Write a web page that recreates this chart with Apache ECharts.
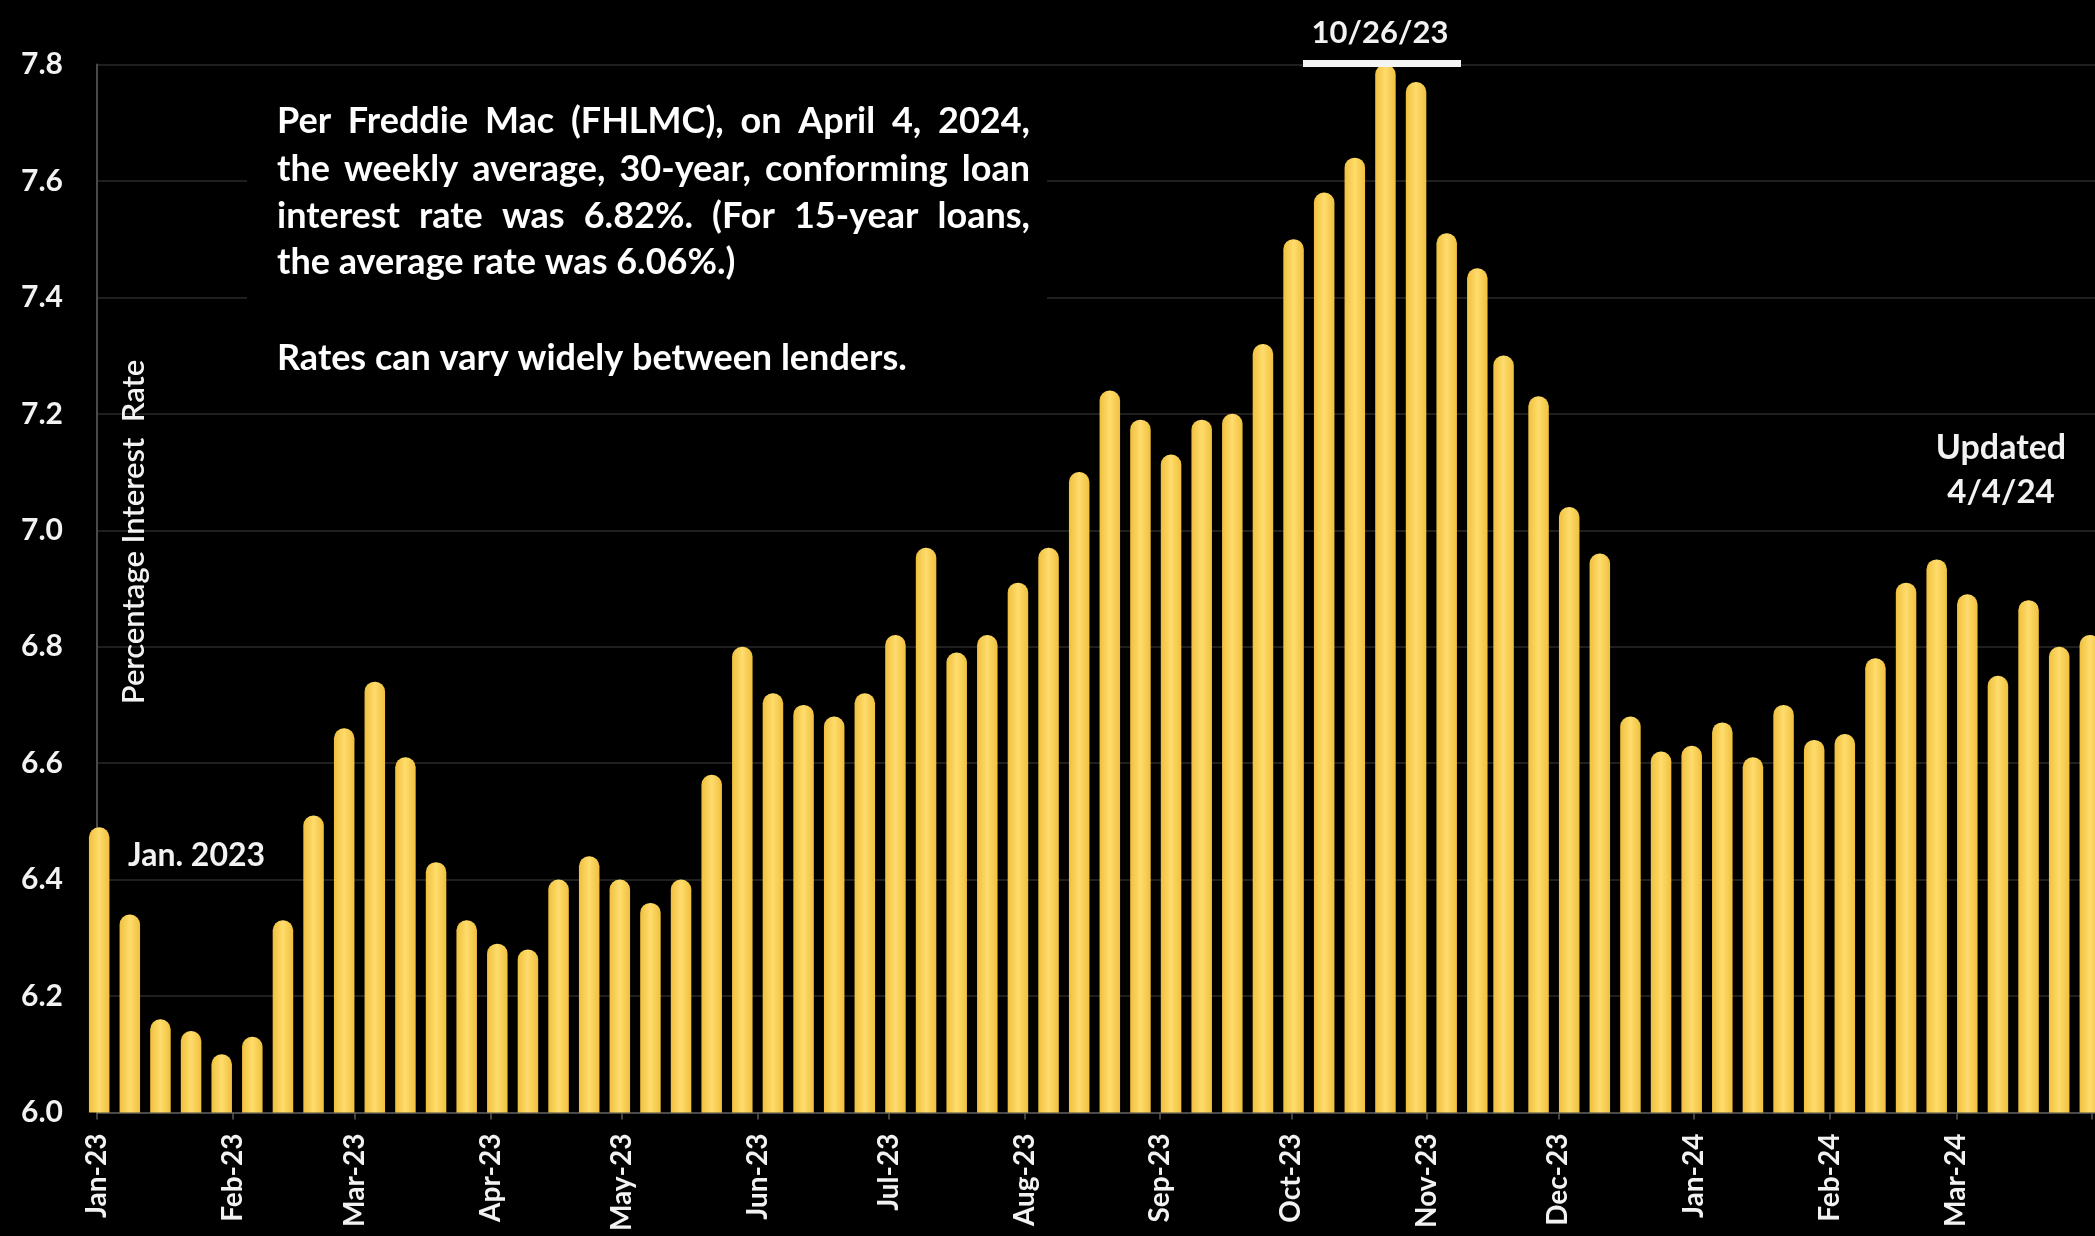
<!DOCTYPE html>
<html>
<head>
<meta charset="utf-8">
<script src="https://cdn.jsdelivr.net/npm/echarts@6/dist/echarts.min.js"></script>
<style>
  html, body { margin: 0; padding: 0; background: #000; }
  #chart { width: 2095px; height: 1236px; }
</style>
</head>
<body>
<div id="chart"></div>
<script>
// Weekly survey dates (Thursdays) and 30-year fixed rates, Jan 2023 - Apr 2024
const weekDates = [
  '2023-01-05','2023-01-12','2023-01-19','2023-01-26',
  '2023-02-02','2023-02-09','2023-02-16','2023-02-23',
  '2023-03-02','2023-03-09','2023-03-16','2023-03-23','2023-03-30',
  '2023-04-06','2023-04-13','2023-04-20','2023-04-27',
  '2023-05-04','2023-05-11','2023-05-18','2023-05-25',
  '2023-06-01','2023-06-08','2023-06-15','2023-06-22','2023-06-29',
  '2023-07-06','2023-07-13','2023-07-20','2023-07-27',
  '2023-08-03','2023-08-10','2023-08-17','2023-08-24','2023-08-31',
  '2023-09-07','2023-09-14','2023-09-21','2023-09-28',
  '2023-10-05','2023-10-12','2023-10-19','2023-10-26',
  '2023-11-02','2023-11-09','2023-11-16','2023-11-22','2023-11-30',
  '2023-12-07','2023-12-14','2023-12-21','2023-12-28',
  '2024-01-04','2024-01-11','2024-01-18','2024-01-25',
  '2024-02-01','2024-02-08','2024-02-15','2024-02-22','2024-02-29',
  '2024-03-07','2024-03-14','2024-03-21','2024-03-28',
  '2024-04-04'
];
const rates = [
  6.49, 6.34, 6.16, 6.14,
  6.10, 6.13, 6.33, 6.51,
  6.66, 6.74, 6.61, 6.43, 6.33,
  6.29, 6.28, 6.40, 6.44,
  6.40, 6.36, 6.40, 6.58,
  6.80, 6.72, 6.70, 6.68, 6.72,
  6.82, 6.97, 6.79, 6.82,
  6.91, 6.97, 7.10, 7.24, 7.19,
  7.13, 7.19, 7.20, 7.32,
  7.50, 7.58, 7.64, 7.80,
  7.77, 7.51, 7.45, 7.30, 7.23,
  7.04, 6.96, 6.68, 6.62,
  6.63, 6.67, 6.61, 6.70,
  6.64, 6.65, 6.78, 6.91, 6.95,
  6.89, 6.75, 6.88, 6.80,
  6.82
];

// Month ticks along the date axis
const monthStarts = [
  '2023-01-01','2023-02-01','2023-03-01','2023-04-01','2023-05-01','2023-06-01',
  '2023-07-01','2023-08-01','2023-09-01','2023-10-01','2023-11-01','2023-12-01',
  '2024-01-01','2024-02-01','2024-03-01'
];
const monthLabels = [
  'Jan-23','Feb-23','Mar-23','Apr-23','May-23','Jun-23',
  'Jul-23','Aug-23','Sep-23','Oct-23','Nov-23','Dec-23',
  'Jan-24','Feb-24','Mar-24'
];
const unlabeledTicks = ['2024-04-01'];

// Rate axis
const yMin = 6.0, yMax = 7.8, yStep = 0.2;

const FONT = 'Lato, "Open Sans", sans-serif';
const AXIS_START = Date.UTC(2023, 0, 1);
function dayOf(s) {
  const [y, m, d] = s.split('-').map(Number);
  return (Date.UTC(y, m - 1, d) - AXIS_START) / 86400000;
}
// each weekly rate sits over the middle of the survey week it closes
const barData = weekDates.map((d, i) => [dayOf(d) - 3.5, rates[i]]);
const labelDays = monthStarts.map(dayOf);
const labelByDay = {};
labelDays.forEach((d, i) => { labelByDay[d] = monthLabels[i]; });
const tickDays = labelDays.concat(unlabeledTicks.map(dayOf));

const GRID_LEFT = 97, GRID_TOP = 64.5, GRID_BOTTOM = 123.5;
const PX_PER_DAY = 4.375;
const xMax = (2095 - GRID_LEFT) / PX_PER_DAY;

// Note block, justified to a fixed column width
const noteLines = [
  'Per Freddie Mac (FHLMC), on April 4, 2024,',
  'the weekly average, 30-year, conforming loan',
  'interest rate was 6.82%. (For 15-year loans,',
  'the average rate was 6.06%.)'
];
const noteFooter = 'Rates can vary widely between lenders.';

const measureCtx = document.createElement('canvas').getContext('2d');
const NOTE_FONT = 'bold 36px ' + FONT;
measureCtx.font = NOTE_FONT;

function lineWords(text, x, y, width, justify) {
  const words = text.split(' ');
  const widths = words.map(w => measureCtx.measureText(w).width);
  const total = widths.reduce((a, b) => a + b, 0);
  const space = measureCtx.measureText(' ').width;
  let gap = space;
  if (justify && words.length > 1) {
    gap = Math.max(space * 0.7, (width - total) / (words.length - 1));
  }
  const out = [];
  let cx = x;
  words.forEach((w, i) => {
    out.push({
      type: 'text', x: cx, y: y, z: 20, silent: true,
      style: { text: w, fill: '#ffffff', font: NOTE_FONT, align: 'left', verticalAlign: 'middle' }
    });
    cx += widths[i] + gap;
  });
  return out;
}

const NOTE_LEFT = 277, NOTE_WIDTH = 753;
const noteY = [121, 169, 216, 262];
let noteElements = [];
noteLines.forEach((t, i) => {
  noteElements = noteElements.concat(lineWords(t, NOTE_LEFT, noteY[i], NOTE_WIDTH, i < 3));
});
noteElements = noteElements.concat(lineWords(noteFooter, NOTE_LEFT, 358, NOTE_WIDTH, false));

const chart = echarts.init(document.getElementById('chart'), null, { renderer: 'canvas' });

chart.setOption({
  backgroundColor: '#000000',
  animation: false,
  grid: { left: GRID_LEFT, right: 0, top: GRID_TOP, bottom: GRID_BOTTOM, containLabel: false },
  xAxis: {
    type: 'value',
    min: 0,
    max: xMax,
    axisLine: { show: true, lineStyle: { color: '#4a4a4a', width: 2 } },
    axisTick: { show: true, customValues: tickDays, length: 7, lineStyle: { color: '#5a5a5a', width: 1.5 } },
    splitLine: { show: false },
    axisLabel: {
      customValues: labelDays,
      rotate: 90,
      margin: 21,
      color: '#f2f2f2',
      fontFamily: FONT,
      fontWeight: 'bold',
      fontSize: 28,
      formatter: v => labelByDay[Math.round(v)] || ''
    }
  },
  yAxis: {
    type: 'value',
    min: yMin,
    max: yMax,
    interval: yStep,
    axisLine: { show: true, lineStyle: { color: '#4a4a4a', width: 2 } },
    axisTick: { show: false },
    splitLine: { show: true, lineStyle: { color: '#1f1f1f', width: 2 } },
    axisLabel: {
      margin: 34,
      color: '#f2f2f2',
      fontFamily: FONT,
      fontWeight: 'bold',
      fontSize: 30,
      formatter: v => v.toFixed(1)
    }
  },
  series: [{
    type: 'bar',
    data: barData,
    barWidth: 20.5,
    clip: true,
    itemStyle: {
      borderRadius: [10, 10, 0, 0],
      color: new echarts.graphic.LinearGradient(0, 0, 1, 0, [
        { offset: 0, color: '#EFC03E' },
        { offset: 0.5, color: '#FFDC6C' },
        { offset: 1, color: '#EFC03E' }
      ])
    }
  }],
  graphic: [
    // dark panel under the note so grid lines do not run through it
    { type: 'rect', z: 1, silent: true, shape: { x: 247, y: 82, width: 800, height: 305 }, style: { fill: '#000000' } },
    {
      type: 'text', x: 134, y: 532, rotation: Math.PI / 2, z: 20, silent: true,
      style: { text: 'Percentage Interest  Rate', fill: '#f2f2f2', font: '600 31px ' + FONT, align: 'center', verticalAlign: 'middle' }
    },
    {
      type: 'text', x: 128, y: 856, z: 20, silent: true,
      style: { text: 'Jan. 2023', fill: '#f2f2f2', font: 'bold 32px ' + FONT, align: 'left', verticalAlign: 'middle' }
    },
    {
      type: 'text', x: 1380, y: 33, z: 20, silent: true,
      style: { text: '10/26/23', fill: '#f2f2f2', font: 'bold 31px ' + FONT, align: 'center', verticalAlign: 'middle' }
    },
    { type: 'rect', z: 20, silent: true, shape: { x: 1303, y: 60, width: 158, height: 7 }, style: { fill: '#f4f4f4' } },
    {
      type: 'text', x: 2001, y: 448, z: 20, silent: true,
      style: { text: 'Updated', fill: '#f2f2f2', font: 'bold 34px ' + FONT, align: 'center', verticalAlign: 'middle' }
    },
    {
      type: 'text', x: 2001, y: 492, z: 20, silent: true,
      style: { text: '4/4/24', fill: '#f2f2f2', font: 'bold 33px ' + FONT, align: 'center', verticalAlign: 'middle' }
    }
  ].concat(noteElements)
});
</script>
</body>
</html>
